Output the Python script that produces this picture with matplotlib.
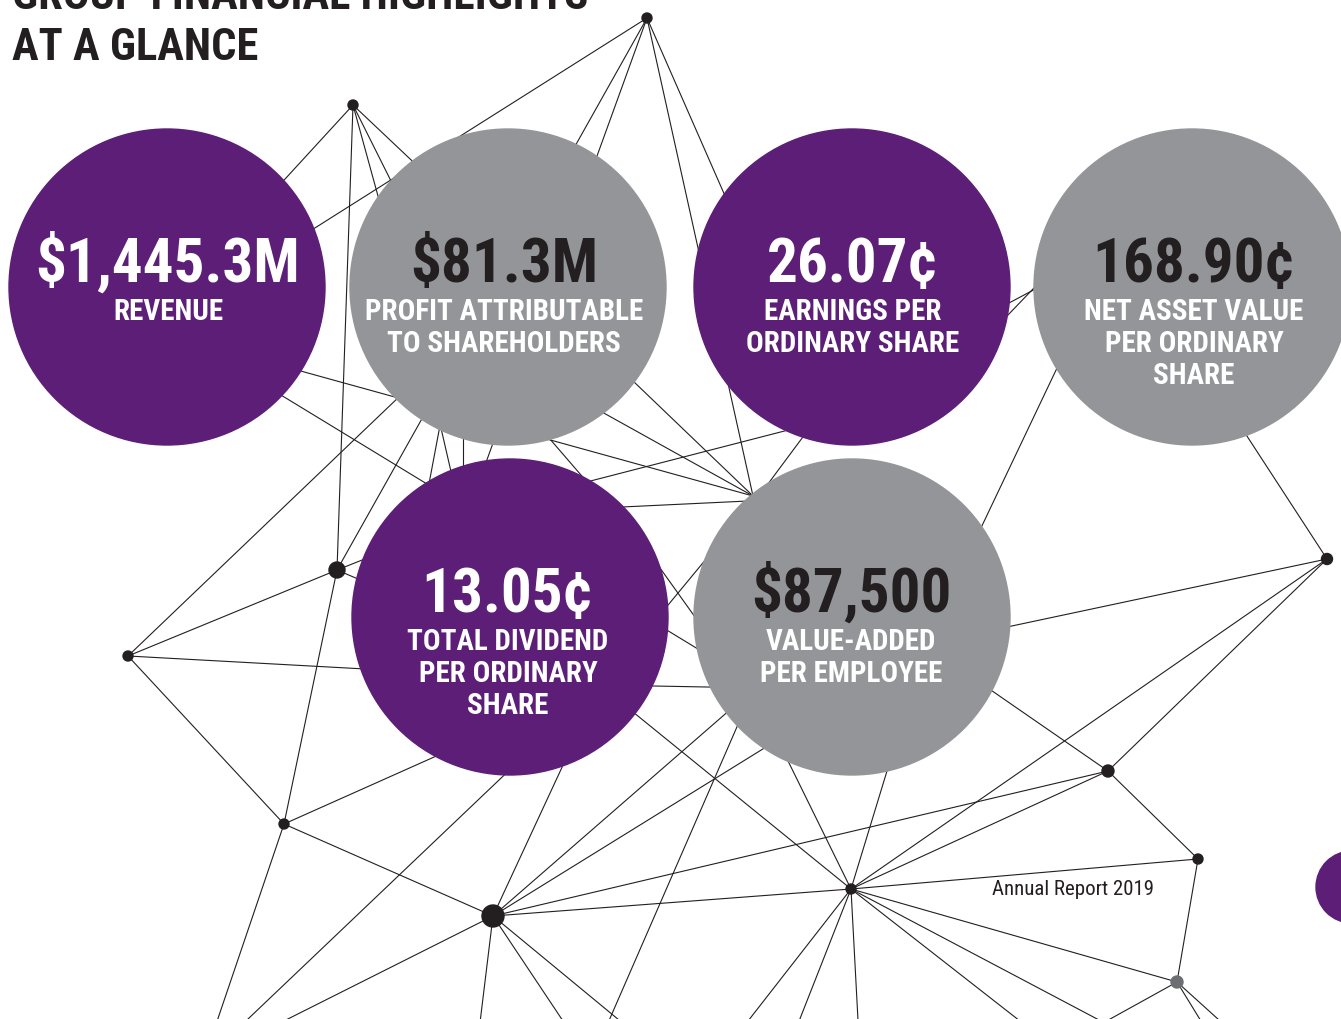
import matplotlib
matplotlib.use('Agg')
from matplotlib import pyplot as plt
from matplotlib import font_manager
from matplotlib.patches import Circle

PURPLE = '#5c1e76'
GREY = '#939598'
INK = '#231f20'

# six highlight bubbles
values = ['$1,445.3M', '$81.3M', '26.07¢', '168.90¢', '13.05¢', '$87,500']
labels = [
    ['REVENUE'],
    ['PROFIT ATTRIBUTABLE', 'TO SHAREHOLDERS'],
    ['EARNINGS PER', 'ORDINARY SHARE'],
    ['NET ASSET VALUE', 'PER ORDINARY', 'SHARE'],
    ['TOTAL DIVIDEND', 'PER ORDINARY', 'SHARE'],
    ['VALUE-ADDED', 'PER EMPLOYEE'],
]
bubble_fill = [PURPLE, GREY, PURPLE, GREY, PURPLE, GREY]
value_color = ['white', INK, 'white', INK, 'white', INK]

# layout of the bubbles (pixel space, y down)
bubble_x = [167, 508, 852, 1192, 510, 852]
bubble_y = [288, 288, 288, 288, 618, 618]
bubble_r = 158
text_x = [168, 504, 853, 1194, 508, 851]

# network nodes: name -> (x, y, dot radius); radius 0 means hidden anchor
nodes = {
    'A': (647, 19, 5), 'B': (353, 106, 5), 'C': (337, 571, 8),
    'D': (128, 657, 5), 'E': (284, 825, 5), 'F': (493, 917, 11),
    'G': (851, 890, 5), 'H': (1108, 772, 6), 'I': (1198, 860, 5),
    'K': (1327, 560, 5.5), 'L': (753, 497, 0),
}
grey_node = (1177, 983, 6)

# edges given as pairs of node names or raw points hidden under bubbles / off page
edges = [
    ('A', (220, 289)), ('A', 'C'), ('A', (480, 480)), ('A', 'L'), ('A', (790, 345)),
    ('B', (230, 240)), ('B', 'C'), ('B', (420, 350)), ('B', (470, 340)), ('B', (500, 245)),
    ((250, 358), 'L'), ((230, 365), (780, 700)), ((560, 312), 'L'), ((530, 373), 'L'),
    ((530, 417), (600, 498)), ((540, 495), (800, 428)), ((580, 510), (790, 500)),
    ((820, 415), (727, 540)), ((960, 366), (1080, 241)), ((960, 330), (1090, 261)),
    ((1077, 327), (950, 594)), ('K', (1215, 388)), ('K', (960, 638)), ('K', 'H'), ('K', 'G'),
    ((930, 649), 'H'), ('H', 'I'), ('H', 'G'), ('H', 'F'), ('I', 'G'), ('I', 'J'),
    ('J', 'G'), ('J', (1074, 1040)), ('J', (1212, 1040)), ('J', (1240, 1040)),
    ('G', (760, 705)), ('G', (905, 713)), ('G', (580, 670)), ('G', 'F'),
    ('G', (734, 1040)), ('G', (792, 1040)), ('G', (859, 1040)), ('G', (1043, 1040)),
    ('G', (1135, 1040)),
    ('F', (590, 708)), ('F', (770, 676)), ('F', (800, 727)), ('F', 'E'),
    ('F', (248, 1040)), ('F', (478, 1040)), ('F', (575, 1040)), ('F', (642, 1040)),
    ((760, 675), (601, 1040)), ((540, 742), (227, 1040)),
    ('E', (470, 742)), ('E', 'D'), ('E', 'C'), ('E', (211, 1040)),
    ('D', 'C'), ('D', (420, 673)), ('D', (470, 330)),
    ('C', (400, 546)), ('C', (400, 598)),
    ((600, 686), (760, 689)), ((645, 548), (725, 660)), ((740, 519), (640, 640)),
    ((445, 400), (428, 490)), ((432, 390), (455, 490)), ((463, 420), (463, 500)),
]


def point(p):
    if isinstance(p, str):
        if p == 'J':
            return grey_node[:2]
        return nodes[p][:2]
    return p


def pick_font():
    names = {f.name for f in font_manager.fontManager.ttflist}
    for name in ['Roboto Condensed', 'Liberation Sans Narrow', 'Open Sans Condensed']:
        if name in names:
            return name
    return 'DejaVu Sans'


FONT = pick_font()

fig = plt.figure(figsize=(13.41, 10.20), dpi=100)
ax = fig.add_axes([0, 0, 1, 1])
ax.set_xlim(0, 1341)
ax.set_ylim(1020, 0)
ax.axis('off')

# network lines
for a, b in edges:
    (x0, y0), (x1, y1) = point(a), point(b)
    ax.plot([x0, x1], [y0, y1], color=INK, lw=0.8, zorder=1, solid_capstyle='butt')

# network dots
for x, y, r in nodes.values():
    if r > 0:
        ax.add_patch(Circle((x, y), r, color=INK, zorder=2))
ax.add_patch(Circle(grey_node[:2], grey_node[2], color='#6d6e71', zorder=2))

# bubbles and their text
for i in range(len(values)):
    ax.add_patch(Circle((bubble_x[i], bubble_y[i]), bubble_r, color=bubble_fill[i], zorder=3))
    base = bubble_y[i] - 6
    ax.text(text_x[i], base, values[i], ha='center', va='baseline', fontsize=44,
            fontweight='bold', color=value_color[i], family=[FONT, 'DejaVu Sans'], zorder=4)
    for j, line in enumerate(labels[i]):
        ax.text(text_x[i], base + 38 + 32 * j, line, ha='center', va='baseline',
                fontsize=21, fontweight='bold', color='white', family=[FONT, 'DejaVu Sans'],
                zorder=4)

# partial bubble at the right edge
ax.add_patch(Circle((1352, 888), 36, color=PURPLE, zorder=3))

# title (first line runs off the top of the page, as in the source)
ax.text(12, 9, 'GROUP FINANCIAL HIGHLIGHTS', ha='left', va='baseline', fontsize=32,
        fontweight='bold', color=INK, family=[FONT, 'DejaVu Sans'], zorder=5)
ax.text(12, 60, 'AT A GLANCE', ha='left', va='baseline', fontsize=32,
        fontweight='bold', color=INK, family=[FONT, 'DejaVu Sans'], zorder=5)

ax.text(992, 895, 'Annual Report 2019', ha='left', va='baseline', fontsize=15,
        color=INK, family=[FONT, 'DejaVu Sans'], zorder=5)

fig.savefig('out.png', dpi=100)
